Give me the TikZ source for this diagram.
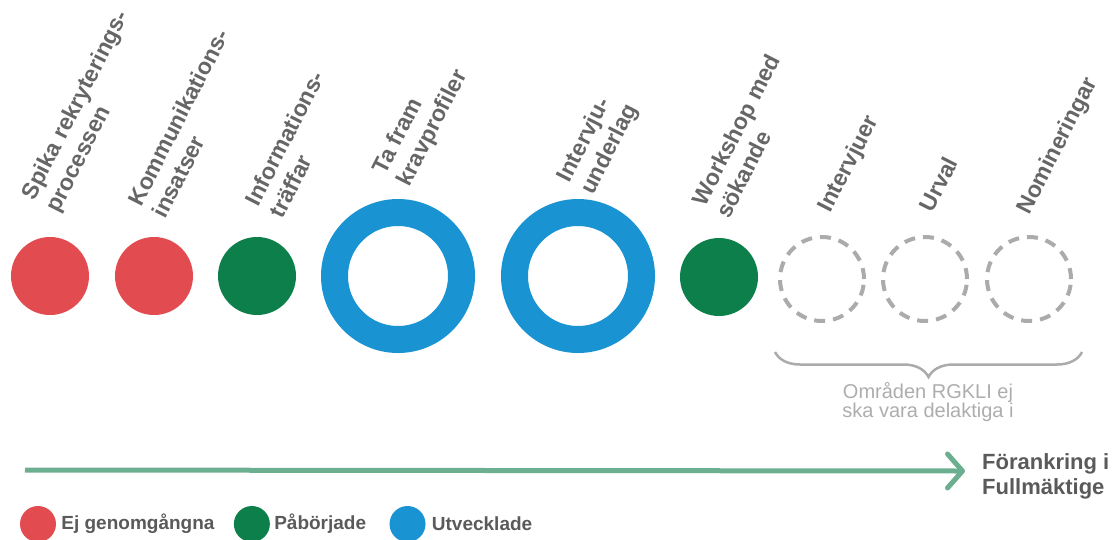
\documentclass[tikz,border=0pt]{standalone}
\usepackage{fontspec}
\setmainfont{Liberation Sans}
\usetikzlibrary{positioning,arrows.meta,decorations.pathreplacing}
\definecolor{ejred}{HTML}{E24B4F}
\definecolor{pagreen}{HTML}{0C7F4A}
\definecolor{utvblue}{HTML}{1A93D2}
\definecolor{dashgray}{HTML}{ABABAB}
\definecolor{flowgreen}{HTML}{6BAF90}
\definecolor{labelgray}{HTML}{666666}
\definecolor{notegray}{HTML}{ADADAD}
\definecolor{darkgray}{HTML}{5A5A5A}
\begin{document}
\begin{tikzpicture}[x=1pt,y=-1pt,
    dot/.style={circle,fill=#1,minimum size=78pt,inner sep=0pt},
    ring/.style={circle,draw=utvblue,line width=27pt,minimum size=127pt,inner sep=0pt},
    todo/.style={circle,draw=dashgray,line width=4pt,dash pattern=on 11pt off 8pt,minimum size=84pt,inner sep=0pt},
    steplabel/.style={rotate=63,anchor=south west,inner sep=0pt,align=left,text=labelgray,
        font=\fontsize{23}{27}\selectfont\bfseries},
    legdot/.style={circle,fill=#1,minimum size=36pt,inner sep=0pt},
    legtext/.style={inner sep=0pt,text=darkgray,font=\fontsize{19}{20}\selectfont\bfseries}]
    \useasboundingbox (0,0) rectangle (1113,539);

    % steps
    \node [dot=ejred] (spika) at (50,276) {};
    \node [dot=ejred] (komm) at (154,276) {};
    \node [dot=pagreen] (info) at (257,276) {};
    \node [ring] (krav) at (398,276) {};
    \node [ring] (intu) at (578,276) {};
    \node [dot=pagreen] (work) at (719,277) {};
    \node [todo] (intv) at (822,279) {};
    \node [todo] (urval) at (925,279) {};
    \node [todo] (nomi) at (1029,279) {};

    % labels
    \node [steplabel] (spika-l) at (63,216) {Spika rekryterings-\\processen};
    \node [steplabel] (komm-l) at (166,220) {Kommunikations-\\insatser};
    \node [steplabel] (info-l) at (283,220) {Informations-\\träffar};
    \node [steplabel] (krav-l) at (414,190) {Ta fram\\kravprofiler};
    \node [steplabel] (intu-l) at (598,198) {Intervju-\\underlag};
    \node [steplabel] (work-l) at (730,220) {Workshop med\\sökande};
    \node [steplabel] (intv-l) at (835,216) {Intervjuer};
    \node [steplabel] (urval-l) at (933,214) {Urval};
    \node [steplabel] (nomi-l) at (1034,218) {Nomineringar};

    % brace
    \draw [dashgray,line width=2.5pt,decorate,decoration={brace,mirror,amplitude=25pt}]
        (775,352) -- (1082,352);
    \node [align=center,inner sep=0pt,text=notegray,font=\fontsize{20}{19}\selectfont] (note)
        at (928,402) {Områden RGKLI ej\\ska vara delaktiga i};

    % timeline
    \coordinate (tl-start) at (25,470);
    \coordinate (tl-end) at (965,471);
    \draw [flowgreen,line width=5pt,-{Straight Barb[length=15pt,width=34pt,round]}] (tl-start) -- (tl-end);
    \node [anchor=west,align=left,inner sep=0pt,text=darkgray,font=\fontsize{22}{25}\selectfont\bfseries] (fa)
        at (982,476) {Förankring i\\Fullmäktige};

    % legend
    \node [legdot=ejred] (leg-ej) at (38,524) {};
    \node [legtext,right=5pt of leg-ej] (leg-ej-t) {Ej genomgångna};
    \node [legdot=pagreen,right=19pt of leg-ej-t] (leg-pa) {};
    \node [legtext,right=4pt of leg-pa] (leg-pa-t) {Påbörjade};
    \node [legdot=utvblue,right=23pt of leg-pa-t] (leg-utv) {};
    \node [legtext,right=6pt of leg-utv] (leg-utv-t) {Utvecklade};
\end{tikzpicture}
\end{document}
